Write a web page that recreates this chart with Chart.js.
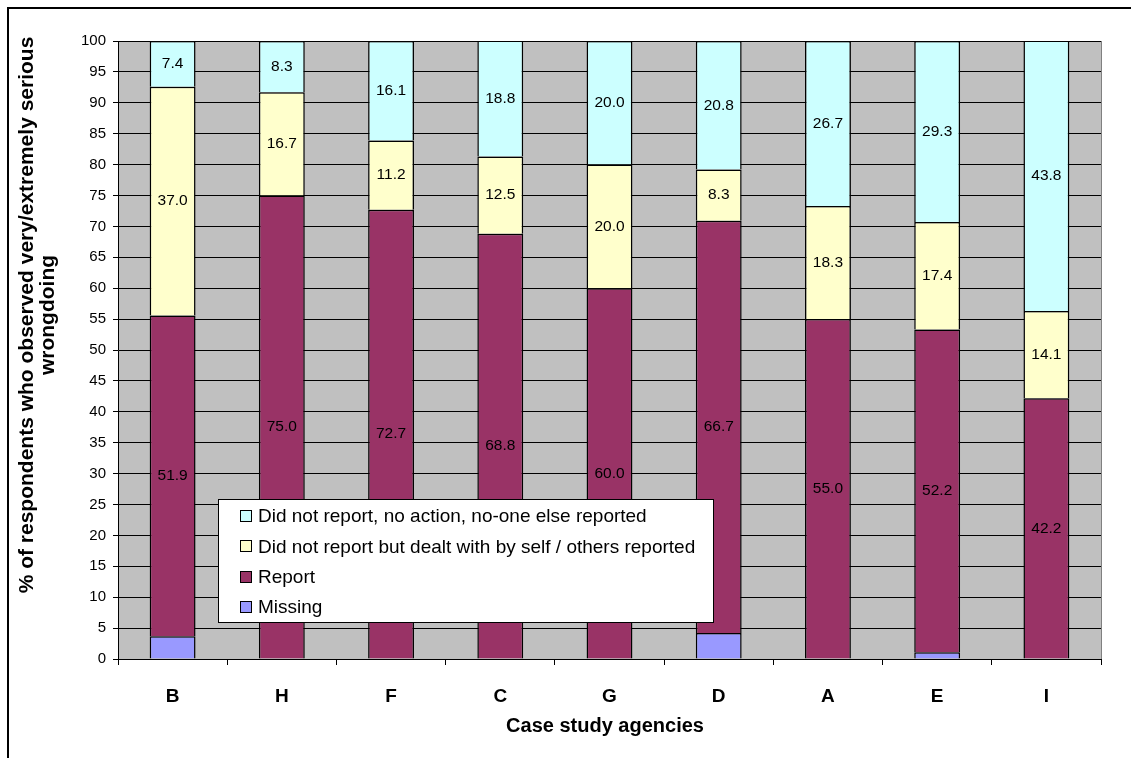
<!DOCTYPE html>
<html>
<head>
<meta charset="utf-8">
<title>Case study agencies – reporting of wrongdoing</title>
<script src="https://cdn.jsdelivr.net/npm/chart.js@4/dist/chart.umd.min.js"></script>
<style>
  html, body { margin: 0; padding: 0; background: #ffffff; }
  #wrap { width: 1131px; height: 758px; position: relative; }
  canvas { display: block; }
</style>
</head>
<body>
<div id="wrap"><canvas id="chart" width="1131" height="758"></canvas></div>
<script>
// Agencies along the x axis
const agencies = ['B', 'H', 'F', 'C', 'G', 'D', 'A', 'E', 'I'];

// Percentages per response group (stacked bottom to top)
const missing   = [3.7, 0, 0, 0, 0, 4.2, 0, 1.1, 0];
const report    = [51.9, 75.0, 72.7, 68.8, 60.0, 66.7, 55.0, 52.2, 42.2];
const dealtWith = [37.0, 16.7, 11.2, 12.5, 20.0, 8.3, 18.3, 17.4, 14.1];
const noAction  = [7.4, 8.3, 16.1, 18.8, 20.0, 20.8, 26.7, 29.3, 43.8];

// Series names
const seriesNames = [
  'Missing',
  'Report',
  'Did not report but dealt with by self / others reported',
  'Did not report, no action, no-one else reported'
];

// Axis text
const yTitleLines = ['% of respondents who observed very/extremely serious', 'wrongdoing'];
const xTitle = 'Case study agencies';
const yMin = 0, yMax = 100, yStep = 5;

const FONT = '"Liberation Sans", Arial, Helvetica, sans-serif';

// White page, outer frame, grey plot area
const backdrop = {
  id: 'backdrop',
  beforeDraw(chart) {
    const { ctx, chartArea: a, width, height } = chart;
    ctx.save();
    ctx.fillStyle = '#ffffff';
    ctx.fillRect(0, 0, width, height);
    ctx.fillStyle = '#000000';
    ctx.fillRect(7, 7, width - 7, 2);
    ctx.fillRect(7, 7, 2, height - 7);
    ctx.fillStyle = '#c0c0c0';
    ctx.fillRect(a.left, a.top, a.right - a.left, a.bottom - a.top);
    ctx.strokeStyle = '#808080';
    ctx.lineWidth = 1;
    ctx.beginPath();
    ctx.moveTo(Math.round(a.right) + 0.5, a.top);
    ctx.lineTo(Math.round(a.right) + 0.5, a.bottom);
    ctx.stroke();
    ctx.restore();
  }
};

// Value labels in the middle of each segment (Missing is left unlabelled)
const segmentLabels = {
  id: 'segmentLabels',
  afterDatasetsDraw(chart) {
    const { ctx } = chart;
    ctx.save();
    ctx.font = '15.5px ' + FONT;
    ctx.fillStyle = '#000000';
    ctx.textAlign = 'center';
    ctx.textBaseline = 'middle';
    chart.data.datasets.forEach((ds, i) => {
      if (i === 0) return;
      const meta = chart.getDatasetMeta(i);
      meta.data.forEach((bar, j) => {
        const v = ds.data[j];
        if (!v) return;
        const p = bar.getProps(['x', 'y', 'base'], true);
        ctx.fillText(v.toFixed(1), p.x, (p.y + p.base) / 2);
      });
    });
    ctx.restore();
  }
};

// Axis titles
const axisTitles = {
  id: 'axisTitles',
  afterDraw(chart) {
    const { ctx } = chart;
    ctx.save();
    ctx.fillStyle = '#000000';
    ctx.textAlign = 'center';
    ctx.textBaseline = 'middle';
    ctx.font = 'bold 20px ' + FONT;
    ctx.fillText(xTitle, 605, 726);
    ctx.font = 'bold 21px ' + FONT;
    ctx.translate(27, 315);
    ctx.rotate(-Math.PI / 2);
    yTitleLines.forEach((line, k) => ctx.fillText(line, 0, k * 21.5));
    ctx.restore();
  }
};

// Legend box placed inside the plot
const boxLegend = {
  id: 'boxLegend',
  afterDraw(chart) {
    const { ctx } = chart;
    const box = { x: 218, y: 499, w: 495, h: 123 };
    ctx.save();
    ctx.fillStyle = '#ffffff';
    ctx.fillRect(box.x, box.y, box.w, box.h);
    ctx.strokeStyle = '#000000';
    ctx.lineWidth = 1;
    ctx.strokeRect(box.x + 0.5, box.y + 0.5, box.w, box.h);
    ctx.font = '19px ' + FONT;
    ctx.textAlign = 'left';
    ctx.textBaseline = 'middle';
    const items = chart.data.datasets.slice().reverse();
    items.forEach((ds, k) => {
      const cy = 516 + k * 30.4;
      ctx.fillStyle = ds.backgroundColor;
      ctx.fillRect(240, Math.round(cy) - 6, 12, 12);
      ctx.strokeStyle = '#000000';
      ctx.strokeRect(240.5, Math.round(cy) - 5.5, 11, 11);
      ctx.fillStyle = '#000000';
      ctx.fillText(ds.label, 258, cy + 1);
    });
    ctx.restore();
  }
};

const colours = ['#9999ff', '#993366', '#ffffcc', '#ccffff'];
const seriesValues = [missing, report, dealtWith, noAction];

new Chart(document.getElementById('chart'), {
  type: 'bar',
  data: {
    labels: agencies,
    datasets: seriesValues.map((vals, i) => ({
      label: seriesNames[i],
      data: vals,
      backgroundColor: colours[i],
      borderColor: '#000000',
      borderWidth: 1.5,
      barPercentage: 0.42,
      categoryPercentage: 1.0
    }))
  },
  options: {
    responsive: false,
    animation: false,
    devicePixelRatio: 1,
    layout: { padding: { left: 10, top: 41, right: 30, bottom: 0 } },
    plugins: {
      legend: { display: false },
      tooltip: { enabled: false },
      title: { display: false }
    },
    scales: {
      x: {
        stacked: true,
        offset: true,
        grid: {
          offset: true,
          drawOnChartArea: false,
          drawTicks: true,
          tickLength: 6,
          tickColor: '#000000'
        },
        border: { color: '#000000', width: 1 },
        ticks: {
          color: '#000000',
          font: { family: FONT, size: 19, weight: 'bold' },
          padding: 20,
          maxRotation: 0
        },
        afterFit(scale) { scale.height = 758 - 659; }
      },
      y: {
        stacked: true,
        min: yMin,
        max: yMax,
        grid: {
          color: '#000000',
          lineWidth: 1,
          drawTicks: true,
          tickLength: 5,
          tickColor: '#000000'
        },
        border: { color: '#000000', width: 1 },
        ticks: {
          stepSize: yStep,
          color: '#000000',
          font: { family: FONT, size: 15 },
          padding: 7
        },
        afterFit(scale) { scale.width = 118 - 10; }
      }
    }
  },
  plugins: [backdrop, segmentLabels, axisTitles, boxLegend]
});
</script>
</body>
</html>
